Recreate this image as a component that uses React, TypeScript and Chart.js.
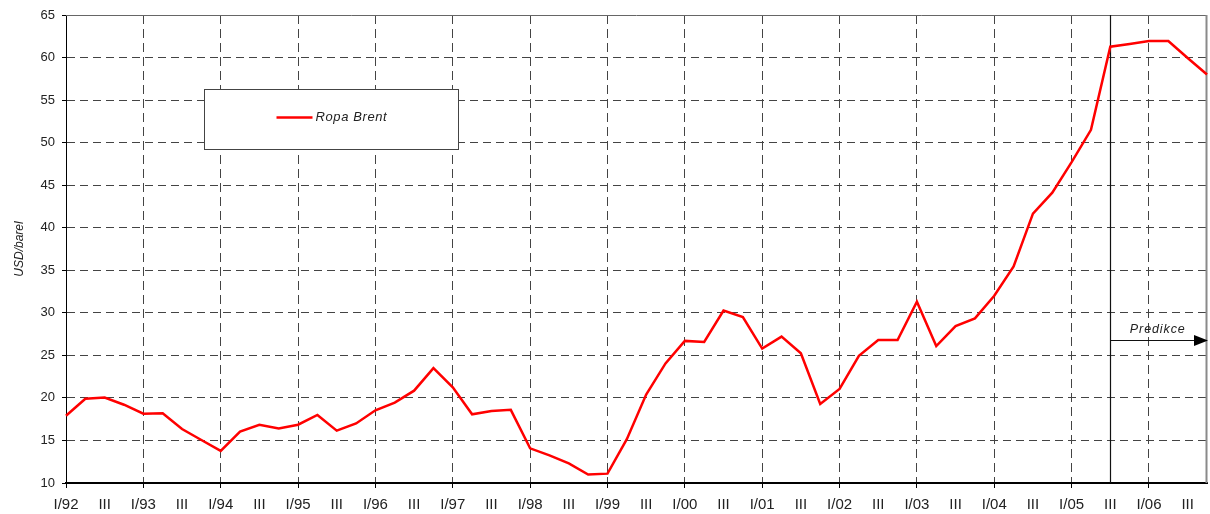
import React, { useEffect, useRef } from 'react';
import { Chart, registerables } from 'chart.js';

Chart.register(...registerables);

// ---- data ----
const years = ['92', '93', '94', '95', '96', '97', '98', '99', '00', '01', '02', '03', '04', '05', '06'];
const quarterNames = ['I', 'II', 'III', 'IV'];
const categories = years.flatMap((y) => quarterNames.map((q) => `${q}/${y}`));

const brentPrices = [
  17.9, 19.9, 20.05, 19.2, 18.15, 18.2, 16.35, 15.05,
  13.77, 16.05, 16.85, 16.4, 16.85, 18.0, 16.15, 17.0,
  18.55, 19.45, 20.85, 23.5, 21.25, 18.07, 18.46, 18.6,
  14.07, 13.25, 12.3, 11.0, 11.1, 15.15, 20.4, 24.05,
  26.7, 26.57, 30.26, 29.5, 25.8, 27.2, 25.25, 19.3,
  21.05, 24.95, 26.8, 26.8, 31.3, 26.1, 28.45, 29.35,
  32.0, 35.45, 41.65, 44.12, 47.7, 51.5, 61.28, 61.6,
  61.95, 61.95, 59.95, 58.0,
];

const seriesName = 'Ropa Brent';
const yAxisTitle = 'USD/barel';
const predictionLabel = 'Predikce';
const predictionStartIndex = 54; // III/05
const predictionArrowValue = 26.8;
const yMin = 10;
const yMax = 65;
const yStep = 5;

const FONT = '"Liberation Sans", Arial, Helvetica, sans-serif';

const quarterOf = (i: number) => (categories[i] || '').split('/')[0];

const decorPlugin = {
  id: 'decor',
  beforeDatasetsDraw(chart: any) {
    const { ctx, chartArea: a, scales } = chart;
    const x = scales.x;
    const y = scales.y;
    ctx.save();
    // top frame
    ctx.strokeStyle = '#666';
    ctx.lineWidth = 1;
    ctx.setLineDash([]);
    ctx.beginPath();
    ctx.moveTo(a.left, a.top + 0.5);
    ctx.lineTo(a.right, a.top + 0.5);
    ctx.stroke();
    // right frame
    ctx.strokeStyle = '#8a8a8a';
    ctx.lineWidth = 2;
    ctx.beginPath();
    ctx.moveTo(a.right - 0.5, a.top);
    ctx.lineTo(a.right - 0.5, a.bottom);
    ctx.stroke();
    // prediction divider
    const px = Math.round(x.getPixelForValue(predictionStartIndex)) + 0.5;
    ctx.strokeStyle = '#111';
    ctx.lineWidth = 1.2;
    ctx.beginPath();
    ctx.moveTo(px, a.top);
    ctx.lineTo(px, a.bottom);
    ctx.stroke();
    // arrow
    const ay = Math.round(y.getPixelForValue(predictionArrowValue)) + 0.5;
    const tip = a.right + 1;
    const base = tip - 14;
    ctx.lineWidth = 1;
    ctx.beginPath();
    ctx.moveTo(px, ay);
    ctx.lineTo(base, ay);
    ctx.stroke();
    ctx.fillStyle = '#000';
    ctx.beginPath();
    ctx.moveTo(tip, ay);
    ctx.lineTo(base, ay - 5.5);
    ctx.lineTo(base, ay + 5.5);
    ctx.closePath();
    ctx.fill();
    // label
    ctx.fillStyle = '#222';
    ctx.font = `italic 12.5px ${FONT}`;
    (ctx as any).letterSpacing = '0.9px';
    ctx.textAlign = 'center';
    ctx.textBaseline = 'alphabetic';
    ctx.fillText(predictionLabel, (px + a.right) / 2 - 1, ay - 8);
    ctx.restore();
  },
  afterDatasetsDraw(chart: any) {
    const { ctx, chartArea: a } = chart;
    ctx.save();
    const bx = Math.round(a.left + 138) + 0.5;
    const by = Math.round(a.top + 74) + 0.5;
    const bw = 254;
    const bh = 60;
    ctx.fillStyle = '#fff';
    ctx.fillRect(bx, by, bw, bh);
    ctx.strokeStyle = '#444';
    ctx.lineWidth = 1;
    ctx.strokeRect(bx, by, bw, bh);
    const ly = by + 28;
    ctx.strokeStyle = '#ff0000';
    ctx.lineWidth = 2.5;
    ctx.beginPath();
    ctx.moveTo(bx + 72, ly);
    ctx.lineTo(bx + 108, ly);
    ctx.stroke();
    ctx.fillStyle = '#222';
    ctx.font = `italic 13px ${FONT}`;
    (ctx as any).letterSpacing = '0.6px';
    ctx.textAlign = 'left';
    ctx.textBaseline = 'middle';
    ctx.fillText(seriesName, bx + 111, ly);
    ctx.restore();
  },
};

export default function App() {
  const canvasRef = useRef<HTMLCanvasElement | null>(null);

  useEffect(() => {
    if (!canvasRef.current) return;
    Chart.defaults.font.family = FONT;
    const chart = new Chart(canvasRef.current, {
      type: 'line',
      data: {
        labels: categories,
        datasets: [
          {
            label: seriesName,
            data: brentPrices,
            borderColor: '#ff0000',
            backgroundColor: '#ff0000',
            borderWidth: 2.5,
            pointRadius: 0,
            tension: 0,
            fill: false,
          },
        ],
      },
      options: {
        animation: false,
        responsive: true,
        maintainAspectRatio: false,
        layout: { padding: { top: 15, right: 3, left: 0, bottom: 0 } },
        plugins: {
          legend: { display: false },
          tooltip: { enabled: false },
        },
        scales: {
          x: {
            type: 'category',
            offset: false,
            afterFit: (s: any) => {
              s.height = 31;
              s.paddingRight = 0;
              s.paddingLeft = 0;
            },
            border: { display: true, color: '#000', width: 2, dash: [9, 5] },
            grid: {
              display: true,
              drawOnChartArea: true,
              drawTicks: true,
              tickLength: 5,
              lineWidth: 1,
              color: (c: any) =>
                c.index !== 0 && quarterOf(c.index) === 'I' ? '#444' : 'rgba(0,0,0,0)',
              tickColor: (c: any) => (quarterOf(c.index) === 'I' ? '#000' : 'rgba(0,0,0,0)'),
            },
            ticks: {
              autoSkip: false,
              maxRotation: 0,
              minRotation: 0,
              padding: 8,
              color: '#222',
              font: { size: 15, family: FONT },
              callback: (_v: any, i: number) => {
                const q = quarterOf(i);
                if (q === 'I') return categories[i];
                if (q === 'III') return 'III';
                return '';
              },
            },
          },
          y: {
            min: yMin,
            max: yMax,
            afterFit: (s: any) => {
              s.width = 66;
              s.paddingTop = 0;
              s.paddingBottom = 0;
            },
            border: { display: true, color: '#000', width: 1, dash: [8, 5] },
            grid: {
              display: true,
              tickLength: 4,
              lineWidth: 1,
              color: (c: any) =>
                c.tick && (c.tick.value === yMin || c.tick.value === yMax) ? 'rgba(0,0,0,0)' : '#444',
              tickColor: '#000',
            },
            ticks: {
              stepSize: yStep,
              padding: 7,
              color: '#222',
              font: { size: 13, family: FONT },
            },
            title: {
              display: true,
              text: yAxisTitle,
              color: '#222',
              font: { size: 12, style: 'italic', family: FONT },
              padding: { top: 12, bottom: 0 },
            },
          },
        },
      },
      plugins: [decorPlugin],
    });
    return () => chart.destroy();
  }, []);

  return (
    <div style={{ position: 'fixed', left: 0, top: 0, width: 1210, height: 514, background: '#fff' }}>
      <canvas ref={canvasRef} />
    </div>
  );
}
